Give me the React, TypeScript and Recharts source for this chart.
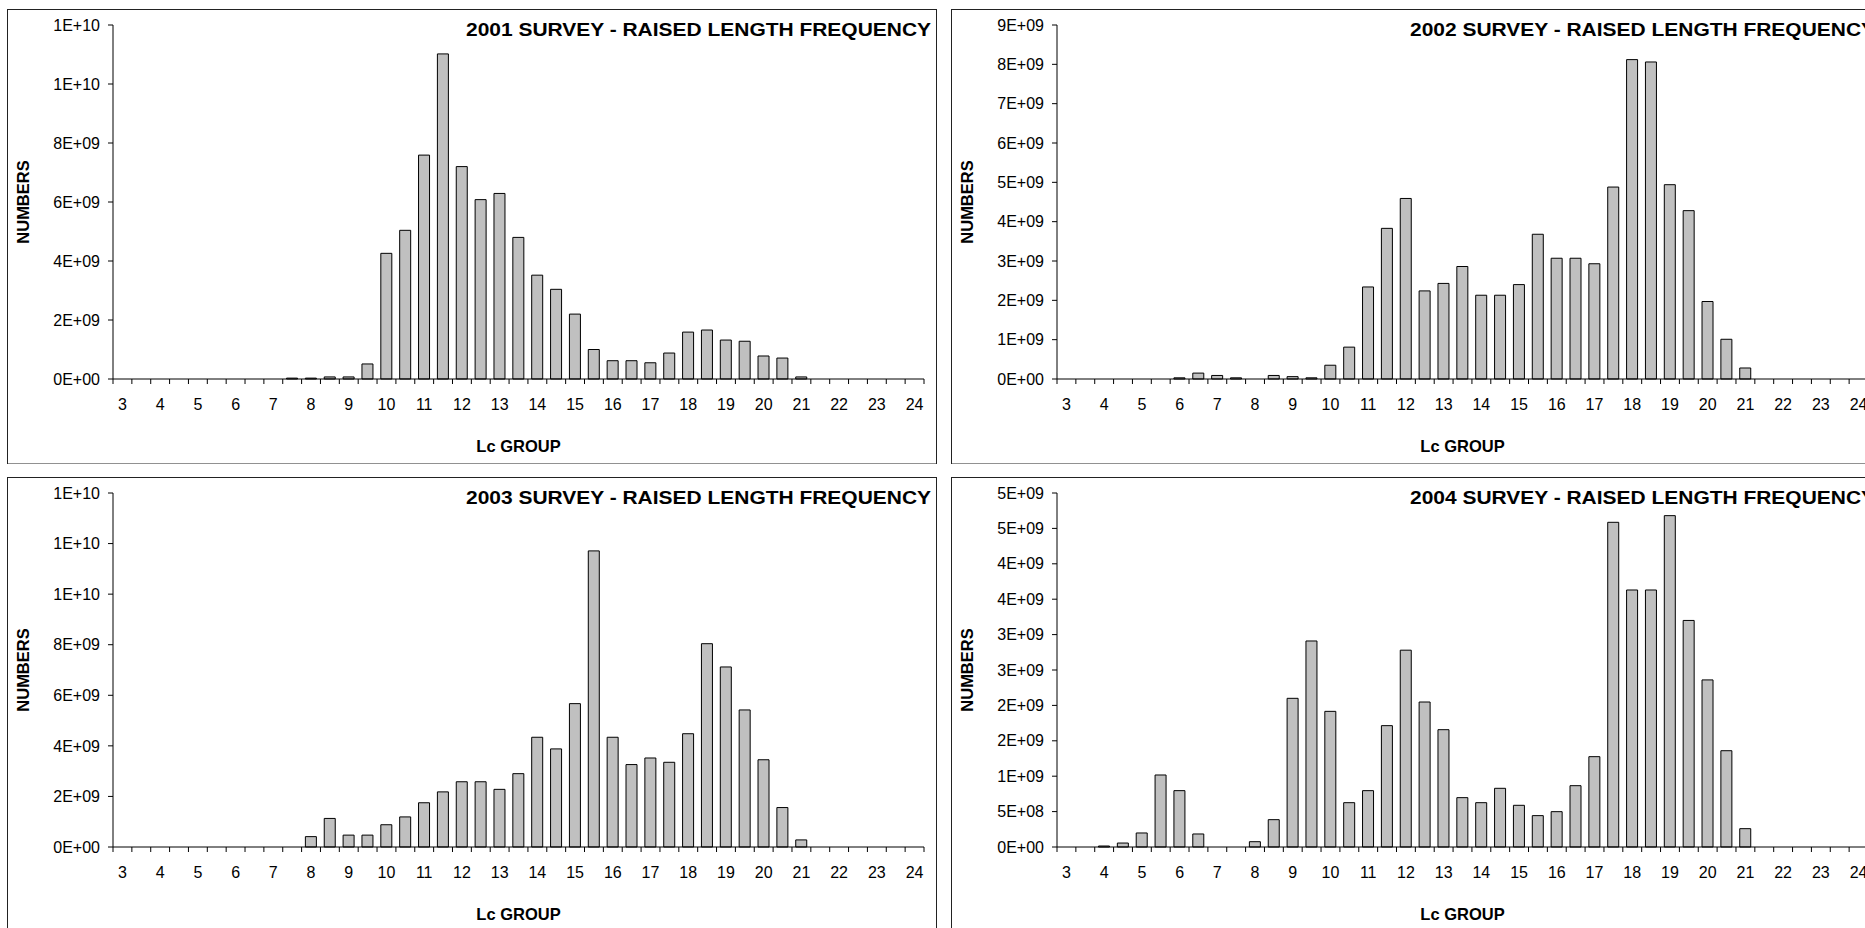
import React from 'react';
import { BarChart, Bar, XAxis, YAxis, Label } from 'recharts';

// ---- data ----
const LC_GROUPS = [
  '3', '3.5', '4', '4.5', '5', '5.5', '6', '6.5', '7', '7.5', '8', '8.5', '9', '9.5',
  '10', '10.5', '11', '11.5', '12', '12.5', '13', '13.5', '14', '14.5', '15', '15.5',
  '16', '16.5', '17', '17.5', '18', '18.5', '19', '19.5', '20', '20.5', '21', '21.5',
  '22', '22.5', '23', '23.5', '24',
];

const NUMBERS_2001 = [
  0, 0, 0, 0, 0, 0, 0, 0, 0, 0.03e9, 0.03e9, 0.07e9, 0.07e9, 0.51e9,
  4.26e9, 5.04e9, 7.59e9, 11.02e9, 7.2e9, 6.08e9, 6.29e9, 4.8e9, 3.52e9, 3.04e9, 2.2e9, 1.0e9,
  0.62e9, 0.62e9, 0.55e9, 0.88e9, 1.59e9, 1.66e9, 1.32e9, 1.28e9, 0.78e9, 0.71e9, 0.07e9, 0,
  0, 0, 0, 0, 0,
];

const NUMBERS_2002 = [
  0, 0, 0, 0, 0, 0, 0.03e9, 0.15e9, 0.09e9, 0.03e9, 0, 0.09e9, 0.06e9, 0.03e9,
  0.35e9, 0.81e9, 2.34e9, 3.83e9, 4.59e9, 2.24e9, 2.43e9, 2.86e9, 2.13e9, 2.13e9, 2.4e9, 3.68e9,
  3.07e9, 3.07e9, 2.93e9, 4.88e9, 8.12e9, 8.06e9, 4.94e9, 4.28e9, 1.97e9, 1.01e9, 0.28e9, 0,
  0, 0, 0, 0, 0,
];

const NUMBERS_2003 = [
  0, 0, 0, 0, 0, 0, 0, 0, 0, 0, 0.41e9, 1.13e9, 0.47e9, 0.47e9,
  0.88e9, 1.19e9, 1.75e9, 2.18e9, 2.58e9, 2.58e9, 2.28e9, 2.9e9, 4.34e9, 3.88e9, 5.67e9, 11.71e9,
  4.34e9, 3.26e9, 3.52e9, 3.35e9, 4.48e9, 8.04e9, 7.12e9, 5.42e9, 3.45e9, 1.56e9, 0.28e9, 0,
  0, 0, 0, 0, 0,
];

const NUMBERS_2004 = [
  0, 0, 0.014e9, 0.056e9, 0.198e9, 1.017e9, 0.796e9, 0.184e9, 0, 0, 0.075e9, 0.386e9, 2.1e9, 2.91e9,
  1.916e9, 0.626e9, 0.796e9, 1.714e9, 2.78e9, 2.048e9, 1.657e9, 0.697e9, 0.626e9, 0.829e9, 0.589e9, 0.443e9,
  0.499e9, 0.866e9, 1.276e9, 4.586e9, 3.63e9, 3.63e9, 4.68e9, 3.2e9, 2.36e9, 1.36e9, 0.259e9, 0,
  0, 0, 0, 0, 0,
];

const TICKS_2001 = [0, 2e9, 4e9, 6e9, 8e9, 1e10, 1.2e10];
const TICKS_2002 = [0, 1e9, 2e9, 3e9, 4e9, 5e9, 6e9, 7e9, 8e9, 9e9];
const TICKS_2003 = [0, 2e9, 4e9, 6e9, 8e9, 1e10, 1.2e10, 1.4e10];
const TICKS_2004 = [0, 5e8, 1e9, 1.5e9, 2e9, 2.5e9, 3e9, 3.5e9, 4e9, 4.5e9, 5e9];

const TITLE_2001 = '2001 SURVEY - RAISED LENGTH FREQUENCY';
const TITLE_2002 = '2002 SURVEY - RAISED LENGTH FREQUENCY';
const TITLE_2003 = '2003 SURVEY - RAISED LENGTH FREQUENCY';
const TITLE_2004 = '2004 SURVEY - RAISED LENGTH FREQUENCY';

const X_TITLE = 'Lc GROUP';
const Y_TITLE = 'NUMBERS';

// ---- layout ----
const PANEL_W = 930;
const PANEL_H = 455;
const Y_AXIS_W = 106;
const M_TOP = 16;
const M_RIGHT = 13;
const X_AXIS_H = 85;
const BAND_HALF = (PANEL_W - Y_AXIS_W - M_RIGHT) / LC_GROUPS.length / 2;
const FONT = '"Liberation Sans", Arial, Helvetica, sans-serif';

const sci = (v: number) => {
  if (v === 0) return '0E+00';
  const [m, e] = v.toExponential(0).split('e');
  const n = parseInt(e, 10);
  return `${m}E${n < 0 ? '-' : '+'}${String(Math.abs(n)).padStart(2, '0')}`;
};

const XTick = (props: any) => {
  const { x, y, payload, index } = props;
  const v = String(payload.value);
  const isInt = !v.includes('.');
  const last = index === LC_GROUPS.length - 1;
  return (
    <g>
      <line x1={x - BAND_HALF} y1={y} x2={x - BAND_HALF} y2={y + 5} stroke="#000" strokeWidth={1} />
      {last && <line x1={x + BAND_HALF} y1={y} x2={x + BAND_HALF} y2={y + 5} stroke="#000" strokeWidth={1} />}
      {isInt && (
        <text x={x} y={y + 25} textAnchor="middle" dominantBaseline="central" fontSize={16} fill="#000" fontFamily={FONT}>
          {v}
        </text>
      )}
    </g>
  );
};

type PanelProps = { left: number; top: number; title: string; values: number[]; ticks: number[] };

function Panel({ left, top, title, values, ticks }: PanelProps) {
  const data = LC_GROUPS.map((g, i) => ({ g, v: values[i] }));
  return (
    <div style={{ position: 'absolute', left, top, width: PANEL_W, height: PANEL_H }}>
      <BarChart
        width={PANEL_W}
        height={PANEL_H}
        data={data}
        margin={{ top: M_TOP, right: M_RIGHT, bottom: 0, left: 0 }}
        barCategoryGap="20%"
      >
        <XAxis
          dataKey="g"
          interval={0}
          tickSize={0}
          tickMargin={0}
          tickLine={false}
          axisLine={{ stroke: '#000', strokeWidth: 1 }}
          height={X_AXIS_H}
          tick={(p: any) => <XTick {...p} />}
        >
          <Label
            value={X_TITLE}
            position="insideBottom"
            offset={12}
            style={{ fontWeight: 'bold', fontSize: 16.5, fill: '#000', fontFamily: FONT }}
          />
        </XAxis>
        <YAxis
          type="number"
          domain={[0, ticks[ticks.length - 1]]}
          ticks={ticks}
          interval={0}
          width={Y_AXIS_W}
          tickSize={5}
          tickMargin={8}
          tickFormatter={sci}
          tick={{ fill: '#000', fontSize: 16, fontFamily: FONT }}
          axisLine={{ stroke: '#000', strokeWidth: 1 }}
          tickLine={{ stroke: '#000', strokeWidth: 1 }}
        >
          <Label
            value={Y_TITLE}
            angle={-90}
            position="insideLeft"
            offset={16}
            style={{ textAnchor: 'middle', fontWeight: 'bold', fontSize: 16.5, fill: '#000', fontFamily: FONT }}
          />
        </YAxis>
        <Bar dataKey="v" fill="#C0C0C0" stroke="#000" strokeWidth={1} isAnimationActive={false} />
      </BarChart>
      <svg
        width={PANEL_W}
        height={PANEL_H}
        style={{ position: 'absolute', left: 0, top: 0, pointerEvents: 'none' }}
      >
        <rect x={0.5} y={0.5} width={PANEL_W - 1} height={PANEL_H - 0.5} fill="none" stroke="#222" strokeWidth={1} />
        <text
          x={924}
          y={26.5}
          textAnchor="end"
          fontWeight="bold"
          fontSize={18.5}
          fill="#000"
          fontFamily={FONT}
          textLength={465}
          lengthAdjust="spacingAndGlyphs"
        >
          {title}
        </text>
      </svg>
    </div>
  );
}

export default function App() {
  return (
    <div
      style={{
        position: 'absolute',
        left: 0,
        top: 0,
        width: 1865,
        height: 928,
        overflow: 'hidden',
        background: '#fff',
        fontFamily: FONT,
      }}
    >
      <Panel left={7} top={9} title={TITLE_2001} values={NUMBERS_2001} ticks={TICKS_2001} />
      <Panel left={951} top={9} title={TITLE_2002} values={NUMBERS_2002} ticks={TICKS_2002} />
      <Panel left={7} top={477} title={TITLE_2003} values={NUMBERS_2003} ticks={TICKS_2003} />
      <Panel left={951} top={477} title={TITLE_2004} values={NUMBERS_2004} ticks={TICKS_2004} />
    </div>
  );
}
